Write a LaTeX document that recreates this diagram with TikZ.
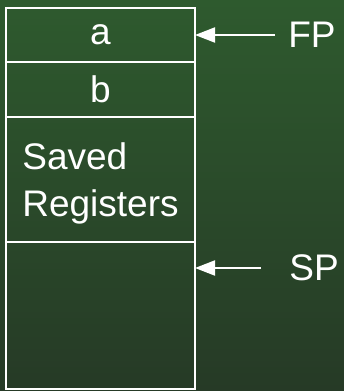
\documentclass[tikz,border=0pt]{standalone}
\usepackage{fontspec}
\setmainfont{Liberation Sans}
\usetikzlibrary{positioning,arrows.meta}
\definecolor{boardtop}{RGB}{46,90,46}
\definecolor{boardbottom}{RGB}{38,58,38}
\tikzset{
  cell/.style={draw=white, line width=2pt, outer sep=0pt, inner sep=0pt,
    minimum width=189pt, text=white, anchor=north},
  ptr/.style={draw=white, line width=2pt, -{Triangle[length=20pt,width=15pt]}},
  tag/.style={text=white, inner xsep=13pt, inner ysep=0pt}
}
\begin{document}
\begin{tikzpicture}[x=1pt, y=-1pt, font=\fontsize{37}{47}\selectfont]
			%%%%% START %%%%%
			
			\shade[top color=boardtop, bottom color=boardbottom] (0, 0) rectangle (344, 391);
			\useasboundingbox (0, 0) rectangle (344, 391);
			
			\node[cell, anchor=north west, minimum height=54pt] (a) at (6, 8) {a};
			\node[cell, minimum height=55pt, below=0pt of a] (b) {b};
			\node[cell, minimum height=125pt, below=0pt of b, align=left, text depth=0pt] (saved) {Saved\\Registers};
			\node[cell, minimum height=147pt, below=0pt of saved] (free) {};
			
			\node[tag] (fp) at (312, 35) {FP};
			\node[tag, inner xsep=28pt] (sp) at (314, 268) {SP};
			
			\draw[ptr] (fp) -- (fp -| a.east);
			\draw[ptr] (sp) -- (sp -| free.east);
			
			%%%%% END %%%%%
\end{tikzpicture}
\end{document}
